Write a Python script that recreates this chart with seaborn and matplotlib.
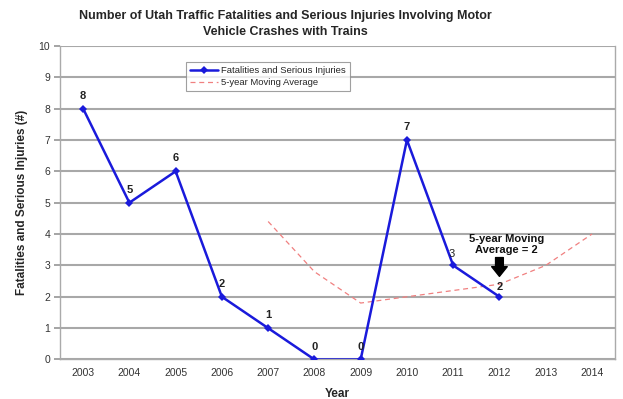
import matplotlib
matplotlib.use("Agg")
import matplotlib.pyplot as plt
import seaborn as sns
import pandas as pd

years = [2003, 2004, 2005, 2006, 2007, 2008, 2009, 2010, 2011, 2012, 2013, 2014]
fatal_years = [2003, 2004, 2005, 2006, 2007, 2008, 2009, 2010, 2011, 2012]
fatalities = [8, 5, 6, 2, 1, 0, 0, 7, 3, 2]
avg_years = [2007, 2008, 2009, 2010, 2011, 2012, 2013, 2014]
moving_avg = [4.4, 2.8, 1.8, 2.0, 2.2, 2.4, 3.0, 4.0]

sns.set_theme(style="white")
plt.rcParams["font.family"] = ["Liberation Sans", "DejaVu Sans"]

df_f = pd.DataFrame({"Year": fatal_years, "Value": fatalities})
df_a = pd.DataFrame({"Year": avg_years, "Value": moving_avg})

fig = plt.figure(figsize=(6.23, 3.99), dpi=100)
ax = fig.add_axes([0.0963, 0.099, 0.891, 0.786])

for v in range(0, 11):
    ax.axhline(v, color="#a8a8a8", lw=1.5, zorder=0)

sns.lineplot(data=df_f, x="Year", y="Value", ax=ax, color="#1a1adb", lw=1.8,
             marker="D", markersize=4, markeredgewidth=0,
             label="Fatalities and Serious Injuries", zorder=3)
sns.lineplot(data=df_a, x="Year", y="Value", ax=ax, color="#f08080", lw=0.9,
             linestyle=(0, (4, 3)), label="5-year Moving Average", zorder=2)

for x, y in zip(fatal_years, fatalities):
    if x == 2011:
        ax.text(x - 0.04, y + 0.2, str(y), ha="center", va="bottom", fontsize=8, color="#222222")
    elif x == 2012:
        ax.text(x, y + 0.15, str(y), ha="center", va="bottom", fontsize=8,
                color="#222222", fontweight="bold")
    else:
        ax.text(x, y + 0.25, str(y), ha="center", va="bottom", fontsize=8,
                color="#222222", fontweight="bold")

ax.text(2012.15, 3.33, "5-year Moving\nAverage = 2", ha="center", va="bottom",
        fontsize=8, fontweight="bold", color="#111111", linespacing=1.1)
ax.annotate("", xy=(2012, 2.65), xytext=(2012, 3.25),
            arrowprops=dict(arrowstyle="simple,head_width=0.8,head_length=0.5,tail_width=0.4",
                            color="black", mutation_scale=14,
                            shrinkA=0, shrinkB=0))

ax.set_xlim(2002.5, 2014.5)
ax.set_ylim(0, 10)
ax.set_xticks(years)
ax.set_xticklabels([str(y) for y in years], fontsize=7.5, color="#333333")
ax.set_yticks(range(0, 11))
ax.set_yticklabels([str(v) for v in range(0, 11)], fontsize=7.5, color="#333333")
ax.set_xticks([y + 0.5 for y in years[:-1]], minor=True)
ax.tick_params(axis="x", which="major", length=0, pad=6)
ax.tick_params(axis="x", which="minor", length=3, color="#999999", direction="out")
ax.tick_params(axis="y", length=4, color="#999999", direction="out", pad=3, left=True)

ax.spines["top"].set_visible(False)
for side in ["left", "bottom", "right"]:
    ax.spines[side].set_color("#aaaaaa")
    ax.spines[side].set_linewidth(1.0)

ax.set_xlabel("Year", fontsize=8.5, fontweight="bold", labelpad=7)
ax.set_ylabel("Fatalities and Serious Injuries (#)", fontsize=8.5, fontweight="bold", labelpad=8)

fig.text(0.458, 0.941,
         "Number of Utah Traffic Fatalities and Serious Injuries Involving Motor\nVehicle Crashes with Trains",
         ha="center", va="center", fontsize=9, fontweight="bold", linespacing=1.45)

leg = ax.legend(loc="upper left", bbox_to_anchor=(0.218, 0.965), fontsize=6.8,
                frameon=True, fancybox=False, edgecolor="#888888", handlelength=3.0,
                borderpad=0.45, labelspacing=0.35, handletextpad=0.3)
leg.get_frame().set_linewidth(0.8)

fig.savefig("out.png", dpi=100, facecolor="white")
